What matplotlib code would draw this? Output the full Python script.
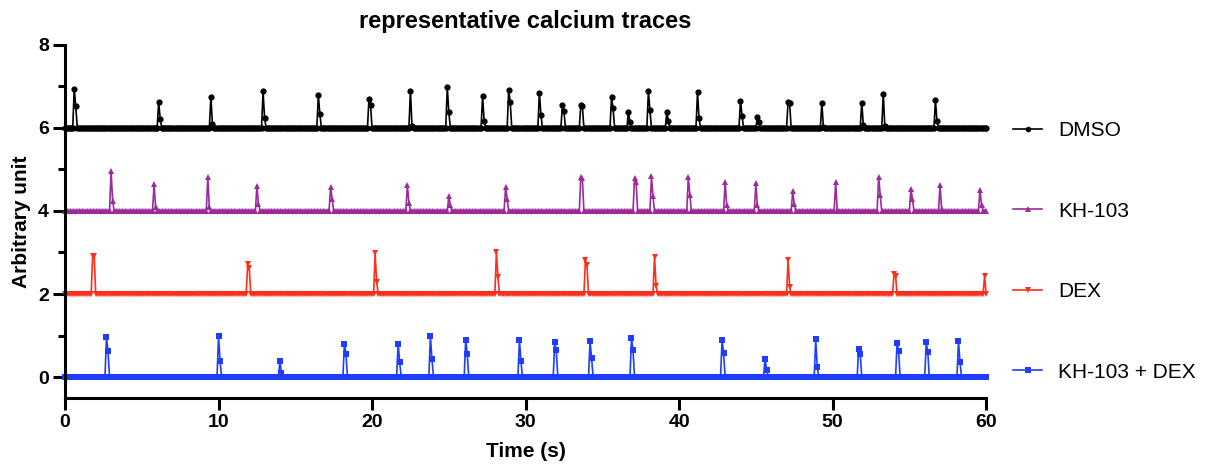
import numpy as np
import matplotlib
matplotlib.use("Agg")
import matplotlib.pyplot as plt
from matplotlib.ticker import MultipleLocator

plt.rcParams['font.family'] = ['Liberation Sans', 'DejaVu Sans']

# sampling of the traces (s)
dt = 0.1
t_end = 60.0

# peak events: time (s), peak height, next-sample height
dmso_t = [0.65, 6.12, 9.5, 12.9, 16.5, 19.8, 22.5, 24.9, 27.2, 28.9, 30.9, 32.4,
          33.6, 35.6, 36.7, 38.0, 39.2, 41.2, 44.0, 45.1, 47.1, 49.3, 51.9, 53.3, 56.7]
dmso_peak = [0.94, 0.63, 0.75, 0.88, 0.79, 0.71, 0.90, 0.98, 0.76, 0.91, 0.85, 0.56,
             0.56, 0.74, 0.39, 0.88, 0.38, 0.86, 0.66, 0.26, 0.63, 0.60, 0.61, 0.83, 0.67]
dmso_next = [0.52, 0.22, 0.10, 0.24, 0.34, 0.56, 0.05, 0.39, 0.18, 0.63, 0.32, 0.40,
             0.52, 0.48, 0.14, 0.43, 0.18, 0.23, 0.30, 0.14, 0.60, 0.02, 0.08, 0.05, 0.16]

kh_t = [3.03, 5.78, 9.30, 12.54, 17.29, 22.27, 25.05, 28.69, 33.56, 37.07, 38.23,
        40.63, 42.95, 45.03, 47.35, 50.20, 52.95, 55.11, 57.0, 59.6]
kh_peak = [0.97, 0.64, 0.81, 0.61, 0.58, 0.63, 0.36, 0.59, 0.83, 0.79, 0.84,
           0.81, 0.71, 0.67, 0.47, 0.69, 0.83, 0.53, 0.63, 0.51]
kh_next = [0.25, 0.10, 0.10, 0.18, 0.30, 0.20, 0.14, 0.29, 0.79, 0.70, 0.35,
           0.39, 0.14, 0.14, 0.18, 0.03, 0.39, 0.30, 0.05, 0.14]

dex_t = [1.8, 11.88, 20.19, 28.1, 33.86, 38.35, 47.11, 54.03, 59.86]
dex_peak = [0.92, 0.72, 0.98, 1.02, 0.82, 0.90, 0.83, 0.47, 0.43]
dex_next = [0.91, 0.63, 0.30, 0.40, 0.70, 0.20, 0.18, 0.43, 0.0]

combo_t = [2.72, 9.99, 14.0, 18.18, 21.69, 23.85, 26.06, 29.61, 31.86, 34.24,
           36.92, 42.75, 45.61, 48.89, 51.67, 54.18, 56.11, 58.2]
combo_peak = [0.96, 0.98, 0.38, 0.80, 0.80, 0.98, 0.90, 0.88, 0.84, 0.86,
              0.94, 0.88, 0.44, 0.91, 0.68, 0.83, 0.84, 0.86]
combo_next = [0.62, 0.39, 0.10, 0.56, 0.35, 0.44, 0.55, 0.38, 0.64, 0.46,
              0.64, 0.58, 0.18, 0.24, 0.56, 0.62, 0.60, 0.36]

labels = ['DMSO', 'KH-103', 'DEX', 'KH-103 + DEX']
offsets = [6, 4, 2, 0]
colors = ['black', '#9B2A9B', '#FF2D1A', '#1F3DFF']
markers = ['o', '^', 'v', 's']
events = [(dmso_t, dmso_peak, dmso_next), (kh_t, kh_peak, kh_next),
          (dex_t, dex_peak, dex_next), (combo_t, combo_peak, combo_next)]

time = np.arange(0, t_end + dt / 2, dt)


def build_trace(ts, peaks, nexts):
    y = np.zeros_like(time)
    for tp, p, n in zip(ts, peaks, nexts):
        i = int(round(tp / dt))
        y[i] = p
        if i + 1 < len(y):
            y[i + 1] = max(y[i + 1], n)
    return y


fig = plt.figure(figsize=(12.11, 4.70), dpi=100)
ax = fig.add_axes([0.0537, 0.1537, 0.7606, 0.7506])

for lab, off, c, m, ev in zip(labels, offsets, colors, markers, events):
    y = build_trace(*ev) + off
    ax.plot(time, y, color=c, lw=1.2, marker=m, ms=4.5, mew=0,
            label=lab, clip_on=False)

ax.set_xlim(0, 60)
ax.set_ylim(-0.5, 8)
ax.xaxis.set_major_locator(MultipleLocator(10))
ax.yaxis.set_major_locator(MultipleLocator(2))
ax.yaxis.set_minor_locator(MultipleLocator(1))

for s in ['top', 'right']:
    ax.spines[s].set_visible(False)
for s in ['left', 'bottom']:
    ax.spines[s].set_linewidth(2.2)

ax.tick_params(which='major', length=8.5, width=2.2, labelsize=14, pad=3)
ax.tick_params(which='minor', length=5, width=2.2)
for lbl in ax.get_xticklabels() + ax.get_yticklabels():
    lbl.set_fontweight('bold')

ax.set_xlabel('Time (s)', fontsize=15, fontweight='bold', labelpad=8)
ax.set_ylabel('Arbitrary unit', fontsize=15, fontweight='bold', labelpad=5)
ax.set_title('representative calcium traces', fontsize=17, fontweight='bold', pad=12)

leg = ax.legend(loc='center left', bbox_to_anchor=(0.8365, 0.465),
                bbox_transform=fig.transFigure, frameon=False, fontsize=15,
                handlelength=1.4, handletextpad=0.75, labelspacing=2.95,
                borderpad=0, borderaxespad=0)
for h in leg.legend_handles:
    h.set_markersize(4)

fig.savefig('out.png', dpi=100)
